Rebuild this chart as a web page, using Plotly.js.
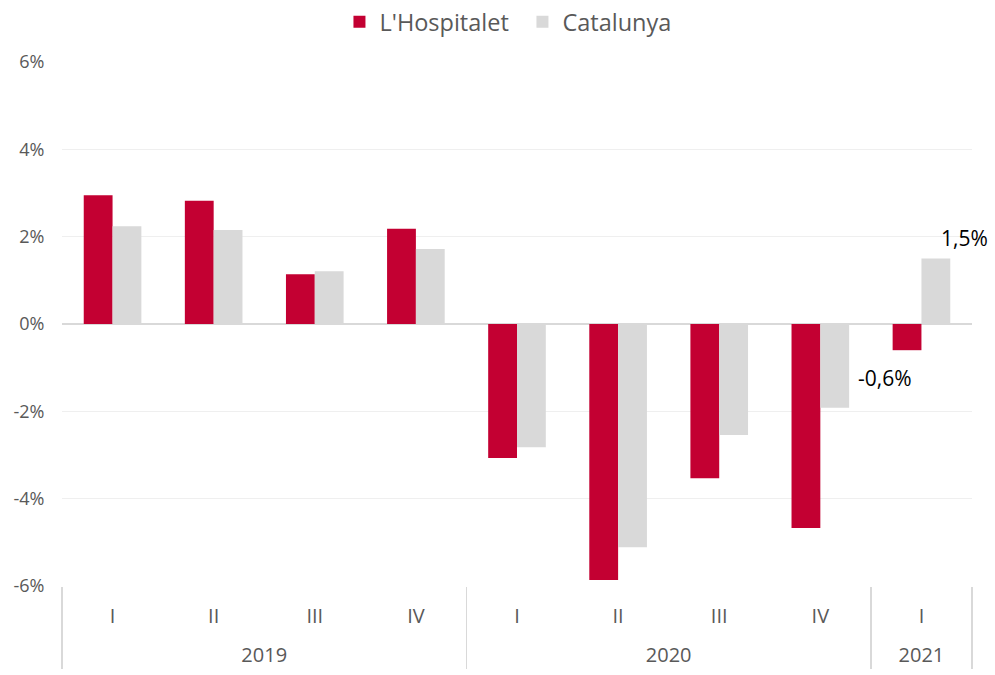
<!DOCTYPE html>
<html>
<head>
<meta charset="utf-8">
<script src="https://cdn.plot.ly/plotly-3.0.1.min.js"></script>
<style>html,body{margin:0;padding:0;background:#fff;}#chart{width:995px;height:675px;}</style>
</head>
<body>
<div id="chart"></div>
<script>
const years = ['2019','2019','2019','2019','2020','2020','2020','2020','2021'];
const quarters = ['I','II','III','IV','I','II','III','IV','I'];
const hospitalet = [2.95, 2.82, 1.14, 2.18, -3.07, -5.86, -3.53, -4.67, -0.6];
const catalunya = [2.24, 2.15, 1.21, 1.72, -2.82, -5.11, -2.54, -1.92, 1.5];
const yTicks = [-6, -4, -2, 0, 2, 4, 6];

const fmt = v => v.toFixed(1).replace('.', ',') + '%';
const last = hospitalet.length - 1;
const font = 'Open Sans, sans-serif';
// year row sits one line below the quarter row
const yearLabels = years.map(y => '<br>' + y);

const data = [
  {type:'bar', name:"L'Hospitalet", x:[yearLabels, quarters], y:hospitalet,
   marker:{color:'#c30032'}, hoverinfo:'skip'},
  {type:'bar', name:'Catalunya', x:[yearLabels, quarters], y:catalunya,
   marker:{color:'#d9d9d9'}, hoverinfo:'skip'}
];

const layout = {
  width:995, height:675,
  margin:{l:62, r:23, t:62, b:89, autoexpand:false},
  paper_bgcolor:'#fff', plot_bgcolor:'#fff',
  font:{family:font, color:'#595959', size:18},
  barmode:'group', bargap:0.43, bargroupgap:0,
  showlegend:true,
  legend:{orientation:'h', x:0.506, xanchor:'center', yref:'container', y:1.0, yanchor:'top',
          font:{size:23.5, color:'#595959'}, itemwidth:30, entrywidth:138, traceorder:'normal'},
  xaxis:{type:'multicategory', range:[-0.5, quarters.length - 0.5], autorange:false,
         showgrid:false, zeroline:false, showline:false,
         ticks:'', ticklabelstandoff:16,
         showdividers:true, dividercolor:'#d9d9d9', dividerwidth:1.5,
         tickfont:{size:20, color:'#595959'}},
  yaxis:{range:[-6, 6], tickvals:yTicks, ticktext:yTicks.map(v => v + '%'),
         showgrid:true, gridcolor:'#efefef', gridwidth:1,
         zeroline:true, zerolinecolor:'#d9d9d9', zerolinewidth:2,
         showline:false, ticks:'outside', ticklen:13, tickcolor:'rgba(0,0,0,0)',
         tickfont:{size:18, color:'#595959'}},
  annotations:[
    {x:last, y:hospitalet[last], xref:'x', yref:'y', text:fmt(hospitalet[last]),
     showarrow:false, xanchor:'center', yanchor:'top', xshift:-36, yshift:-12,
     font:{size:21, color:'#000', family:font}},
    {x:last, y:catalunya[last], xref:'x', yref:'y', text:fmt(catalunya[last]),
     showarrow:false, xanchor:'center', yanchor:'bottom', xshift:43, yshift:5,
     font:{size:21, color:'#000', family:font}}
  ]
};

Plotly.newPlot('chart', data, layout, {displayModeBar:false, staticPlot:true});
</script>
</body>
</html>
